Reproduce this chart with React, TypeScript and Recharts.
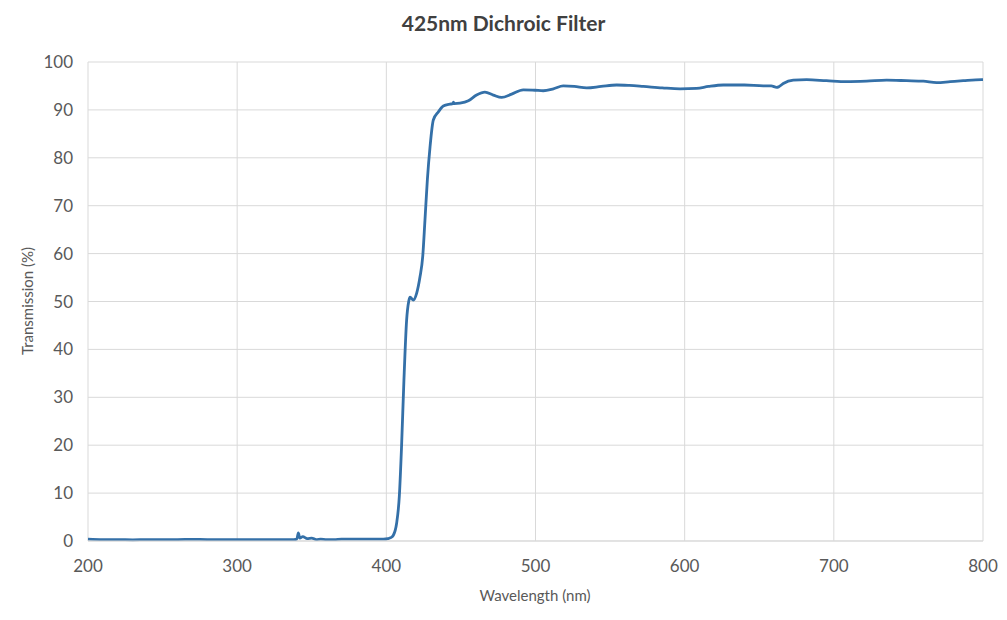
import { LineChart, Line, XAxis, YAxis, CartesianGrid } from 'recharts'

const wavelengths = [
  200, 210, 220, 230, 240, 250, 260, 270, 280, 290, 300, 310, 320, 330, 338, 340, 341, 342, 344,
  347, 350, 353, 356, 360, 365, 370, 375, 380, 385, 390, 395, 398, 401, 403, 404.7, 406.9, 408.7,
  410.2, 411.8, 413.6, 415, 415.9, 418.1, 420.3, 422.6, 424.4, 425.9, 427.5, 429.3, 431.5, 434.9,
  438.2, 442.7, 444.5, 445, 445.5, 449.4, 455, 460.5, 466.1, 471.7, 477.3, 484, 491.8, 499.7, 505.2,
  512, 518.6, 526, 534.3, 544, 554.4, 563, 572.3, 585, 596.9, 608, 616, 625.9, 640, 652.7, 658,
  661.7, 663, 666.1, 672.8, 681.8, 695, 708.6, 722, 735.4, 748.8, 760, 768.9, 778, 786.8, 799.1, 800,
]

const transmission = [
  0.4, 0.3, 0.3, 0.25, 0.3, 0.3, 0.3, 0.35, 0.3, 0.3, 0.3, 0.3, 0.3, 0.3, 0.3, 0.4, 1.7, 0.6, 0.9,
  0.5, 0.6, 0.3, 0.4, 0.3, 0.3, 0.4, 0.4, 0.4, 0.4, 0.4, 0.4, 0.4, 0.5, 0.7, 1.2, 3.7, 9.3,
  19.7, 33.6, 46.1, 50.0, 50.9, 50.3, 51.7, 55.2, 59.4, 67.0, 75.4, 82.3, 87.9, 89.6,
  90.8, 91.2, 91.3, 91.6, 91.3, 91.4, 91.9, 93.1, 93.7, 93.1, 92.6, 93.3, 94.2, 94.1, 94.0,
  94.4, 95.0, 94.9, 94.6, 94.9, 95.2, 95.1, 94.9, 94.6, 94.4, 94.5, 94.9, 95.2, 95.2, 95.0, 95.0,
  94.7, 94.8, 95.5, 96.2, 96.3, 96.1, 95.9, 96.0, 96.2, 96.1, 96.0, 95.7, 95.9, 96.1, 96.3, 96.3,
]

const xTicks = [200, 300, 400, 500, 600, 700, 800]
const yTicks = [0, 10, 20, 30, 40, 50, 60, 70, 80, 90, 100]

const data = wavelengths.map((w, i) => ({ wavelength: w, transmission: transmission[i] }))

const font = 'Lato, "Open Sans", sans-serif'

export default function App() {
  return (
    <div style={{ position: 'absolute', left: 0, top: 0, width: 1007, height: 620, background: '#fff', fontFamily: font }}>
      <div
        style={{
          position: 'absolute', left: 0, width: 1007, top: 10, textAlign: 'center',
          fontSize: 21, fontWeight: 700, color: '#404040',
        }}
      >
        425nm Dichroic Filter
      </div>
      <div
        style={{
          position: 'absolute', left: 475, width: 120, top: 586, textAlign: 'center',
          fontSize: 15, color: '#595959',
        }}
      >
        Wavelength (nm)
      </div>
      <div
        style={{
          position: 'absolute', left: 27 - 70, top: 301 - 10, width: 140, textAlign: 'center',
          fontSize: 15, color: '#595959', transform: 'rotate(-90deg)', lineHeight: '20px',
        }}
      >
        Transmission (%)
      </div>
      <LineChart width={1007} height={620} data={data} margin={{ top: 62, right: 24, left: 0, bottom: 0 }}>
        <CartesianGrid stroke="#d9d9d9" horizontal vertical />
        <XAxis
          dataKey="wavelength"
          type="number"
          domain={[200, 800]}
          ticks={xTicks}
          height={79}
          tickLine={false}
          tickSize={0}
          tickMargin={19}
          axisLine={{ stroke: '#d9d9d9' }}
          tick={{ fill: '#595959', fontSize: 17, fontFamily: font }}
        />
        <YAxis
          type="number"
          domain={[0, 100]}
          ticks={yTicks}
          width={88}
          tickLine={false}
          tickSize={0}
          tickMargin={15}
          axisLine={false}
          tick={{ fill: '#595959', fontSize: 17, fontFamily: font }}
        />
        <Line
          type="monotone"
          dataKey="transmission"
          stroke="#3470a8"
          strokeWidth={2.8}
          dot={false}
          isAnimationActive={false}
        />
      </LineChart>
    </div>
  )
}
